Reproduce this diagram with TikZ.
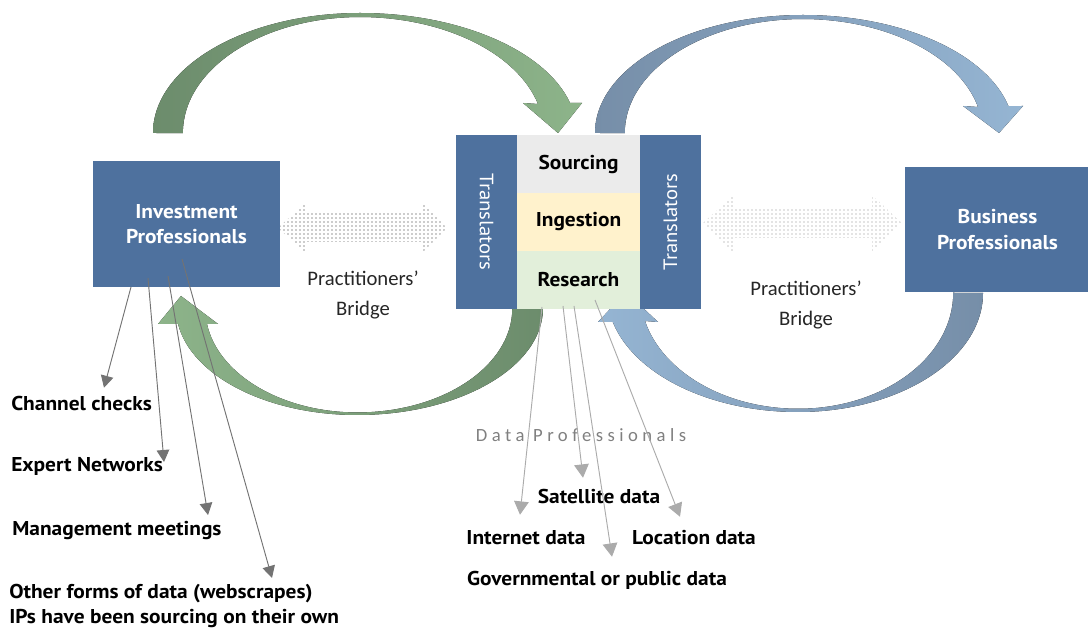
\documentclass[tikz,border=0pt]{standalone}
\usepackage{fontspec}
\setmainfont{PT Sans}[FakeStretch=1.07]
\newfontfamily\calibri{Carlito}
\newfontfamily\spaced[LetterSpace=24]{Carlito}
\usetikzlibrary{arrows.meta,patterns,calc}

\definecolor{boxblue}{RGB}{78,113,158}
\definecolor{srcgray}{RGB}{235,235,235}
\definecolor{ingyellow}{RGB}{255,242,204}
\definecolor{resgreen}{RGB}{226,239,218}
\definecolor{grnD}{RGB}{108,140,108}
\definecolor{grnL}{RGB}{141,180,138}
\definecolor{bluD}{RGB}{118,142,168}
\definecolor{bluL}{RGB}{149,181,211}

\begin{document}
\begin{tikzpicture}[x=0.75pt, y=-0.75pt,
  ipbox/.style={fill=boxblue, inner sep=0pt, outer sep=0pt, text=white, align=center,
    font=\fontsize{15}{19}\selectfont\bfseries},
  stage/.style={inner sep=0pt, outer sep=0pt, minimum width=92.25pt, minimum height=43.5pt,
    font=\fontsize{15}{18}\selectfont\bfseries},
  trans/.style={fill=boxblue, inner sep=0pt, outer sep=0pt, text=white,
    minimum width=130.5pt, minimum height=45.75pt, font=\fontsize{14.5}{17}\selectfont},
  lbl/.style={inner sep=0pt, text height=11.5pt, text depth=3.5pt,
    font=\fontsize{15}{18.75}\selectfont\bfseries},
  bridgetxt/.style={text=black!85, align=center, font=\calibri\fontsize{15.5}{22.5}\selectfont},
  feed/.style={draw=black!55, line width=0.7pt, -{Triangle[length=9pt, width=9.5pt]}},
  datafeed/.style={draw=black!33, line width=0.7pt, -{Triangle[length=10pt, width=11pt]}}
]
\useasboundingbox (0,0) rectangle (1088,630);

\fill[left color=grnD, right color=grnL] (153,133)
  arc[start angle=180, end angle=270, x radius=207, y radius=120]
  arc[start angle=270, end angle=345.5, x radius=217, y radius=120]
  -- (582,103) -- (558,133) -- (523,103) -- (538,104)
  arc[start angle=345.5, end angle=270, x radius=184, y radius=116]
  arc[start angle=270, end angle=180, x radius=177, y radius=116] -- cycle;
\fill[left color=grnL, right color=grnD] (543,308)
  arc[start angle=0, end angle=90, x radius=186, y radius=107]
  arc[start angle=90, end angle=171.4, x radius=181, y radius=107]
  -- (158,324) -- (181,296) -- (218,324) -- (207,324)
  arc[start angle=171.4, end angle=90, x radius=152, y radius=104]
  arc[start angle=90, end angle=0, x radius=155, y radius=104] -- cycle;
\fill[left color=bluD, right color=bluL] (595,133)
  arc[start angle=180, end angle=270, x radius=208, y radius=118]
  arc[start angle=270, end angle=346.8, x radius=211, y radius=118]
  -- (1023,106) -- (999,133) -- (963,106) -- (978,107)
  arc[start angle=346.8, end angle=270, x radius=180, y radius=114]
  arc[start angle=270, end angle=180, x radius=178, y radius=114] -- cycle;
\fill[left color=bluL, right color=bluD] (983,293)
  arc[start angle=0, end angle=90, x radius=185, y radius=119]
  arc[start angle=90, end angle=165.9, x radius=191, y radius=119]
  -- (598,322) -- (626,292) -- (658,322) -- (645,321)
  arc[start angle=165.9, end angle=90, x radius=158, y radius=116]
  arc[start angle=90, end angle=0, x radius=155, y radius=116] -- cycle;

\fill[pattern=dots, pattern color=black!85] (278,228) -- (306,202) -- (306,213) -- (422,213)
  -- (422,202) -- (447,228) -- (422,253) -- (422,242) -- (306,242) -- (306,253) -- cycle;
\fill[pattern=dots, pattern color=black!45] (703,223) -- (733,195) -- (733,208) -- (872,208)
  -- (872,195) -- (902,223) -- (872,252) -- (872,238) -- (733,238) -- (733,252) -- cycle;

\node[ipbox, minimum width=140.25pt, minimum height=94.5pt] (inv) at (186.5,224) {Investment\\Professionals};
\node[ipbox, minimum width=138.75pt, minimum height=93.75pt] (bus) at (997.5,229.5) {Business\\Professionals};

\node[trans, rotate=-90] (tl) at (486.5,222) {Translators};
\node[trans, rotate=90] (tr) at (670.5,222) {Translators};
\node[stage, fill=srcgray] (src) at (578.5,164) {Sourcing};
\node[stage, fill=ingyellow] (ing) at (578.5,222) {Ingestion};
\node[stage, fill=resgreen] (res) at (578.5,280) {Research};

\node[bridgetxt] (brl) at (363,295) {Practitioners’\\Bridge};
\node[bridgetxt] (brr) at (806,305) {Practitioners’\\Bridge};
\node[text=black!50, font=\spaced\fontsize{14}{16}\selectfont] (dp) at (581,435) {Data Professionals};

\node[lbl, anchor=west] (chk) at (11,405) {Channel checks};
\node[lbl, anchor=west] (exp) at (11,466) {Expert Networks};
\node[lbl, anchor=west] (mgt) at (12,530) {Management meetings};
\node[inner sep=0pt, anchor=north west, align=left, font=\fontsize{15}{18.75}\selectfont\bfseries]
  (oth) at (9,584) {Other forms of data (webscrapes)\\IPs have been sourcing on their own};

\node[lbl] (sat) at (599,498) {Satellite data};
\node[lbl] (int) at (526,539) {Internet data};
\node[lbl] (loc) at (694,539) {Location data};
\node[lbl] (gov) at (597,580) {Governmental or public data};

\draw[feed] ($(inv.south west)+(38,0)$) -- ($(chk.north west)+(93,-7)$);
\draw[feed] ($(inv.south west)+(55,-9)$) -- ($(exp.west)+(153,-4)$);
\draw[feed] ($(inv.south west)+(75,-11)$) -- ($(mgt.west)+(196,-15)$);
\draw[feed] ($(inv.south west)+(89,-28)$) -- ($(oth.north west)+(263,-6)$);

\draw[datafeed] ($(res.south west)+(25,-2)$) -- ($(int.north)+(-6,-14)$);
\draw[datafeed] ($(res.south west)+(46,-3)$) -- ($(sat.north)+(-16,-10)$);
\draw[datafeed] ($(res.south west)+(57,-3)$) -- ($(gov.north)+(15,-13)$);
\draw[datafeed] ($(res.south west)+(78,-9)$) -- ($(loc.north)+(-14,-12)$);
\end{tikzpicture}
\end{document}
